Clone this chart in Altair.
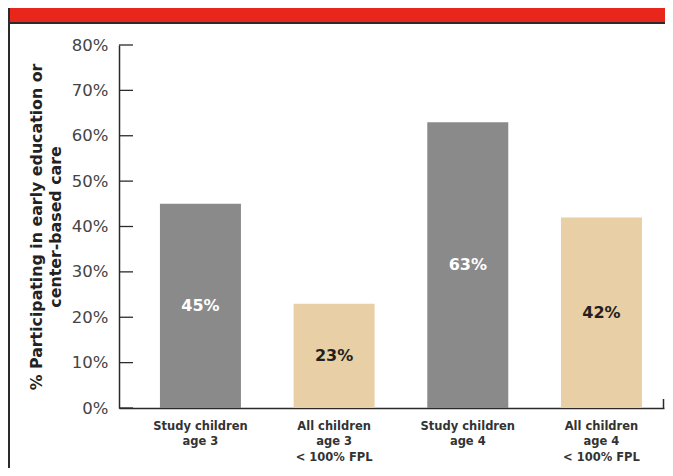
import altair as alt
import pandas as pd

# ---- data ----
categories = [
    "Study children|age 3",
    "All children|age 3|< 100% FPL",
    "Study children|age 4",
    "All children|age 4|< 100% FPL",
]
groups = ["Study", "All", "Study", "All"]
values = [45, 23, 63, 42]
y_ticks = [0, 10, 20, 30, 40, 50, 60, 70, 80]
y_title = ["% Participating in early education or", "center-based care"]

df = pd.DataFrame({"category": categories, "group": groups, "value": values})
tick_df = pd.DataFrame({"tick": y_ticks})
one = pd.DataFrame({"k": [0]})

W, H = 545, 363
PAD_L, PAD_T, PAD_R, PAD_B = 111, 37, 1, 60
FONT = "DejaVu Sans"
DARK = "#2b2b2b"

yscale = alt.Scale(domain=[0, 80], nice=False, zero=True)
xscale = alt.Scale(paddingInner=0.394, paddingOuter=0.2356, align=0.65)

x_axis = alt.Axis(
    title=None,
    labelExpr="split(datum.label, '|')",
    labelAngle=0,
    labelFont=FONT,
    labelFontSize=11.5,
    labelFontWeight="bold",
    labelColor="#333333",
    labelLineHeight=15.5,
    labelBaseline="top",
    labelPadding=12,
    labelLimit=0,
    ticks=False,
    tickSize=0,
    domainColor=DARK,
    domainWidth=1.5,
    grid=False,
)

y_axis = alt.Axis(
    values=y_ticks,
    labelExpr="datum.value + '%'",
    labelFont=FONT,
    labelFontSize=16.5,
    labelColor="#444444",
    labelPadding=11,
    ticks=False,
    tickSize=0,
    grid=False,
    domainColor=DARK,
    domainWidth=1.5,
    title=y_title,
    titleFont=FONT,
    titleFontSize=15.8,
    titleFontWeight="bold",
    titleColor="#222222",
    titleAngle=-90,
    titleAlign="center",
    titleBaseline="middle",
    titleLineHeight=19.5,
    titleX=-83,
    titleY=H / 2,
)

bars = alt.Chart(df).mark_bar().encode(
    x=alt.X("category:N", sort=categories, scale=xscale, axis=x_axis),
    y=alt.Y("value:Q", scale=yscale, axis=y_axis),
    color=alt.Color(
        "group:N",
        scale=alt.Scale(domain=["Study", "All"], range=["#8a8a8a", "#e8cfa5"]),
        legend=None,
    ),
)

labels = alt.Chart(df).transform_calculate(
    half="datum.value / 2", lab="datum.value + '%'"
).mark_text(font=FONT, fontSize=16, fontWeight="bold", baseline="middle").encode(
    x=alt.X("category:N", sort=categories, scale=xscale, axis=x_axis),
    y=alt.Y("half:Q", scale=yscale, axis=y_axis),
    text="lab:N",
    color=alt.condition(alt.datum.group == "Study", alt.value("white"), alt.value("#231f20")),
)

inner_ticks = alt.Chart(tick_df).mark_rule(color=DARK, strokeWidth=1.3).encode(
    y=alt.Y("tick:Q", scale=yscale, axis=y_axis),
    x=alt.value(0),
    x2=alt.value(14),
)

end_tick = alt.Chart(one).mark_rule(color=DARK, strokeWidth=1.5).encode(
    x=alt.value(W - 0.5), y=alt.value(H), y2=alt.value(H - 9)
)

banner = alt.Chart(one).mark_rect(color="#e8261c").encode(
    x=alt.value(-PAD_L + 1), x2=alt.value(W + PAD_R),
    y=alt.value(-PAD_T), y2=alt.value(-PAD_T + 15),
)
banner_line = alt.Chart(one).mark_rule(color=DARK, strokeWidth=2).encode(
    x=alt.value(-PAD_L), x2=alt.value(W + PAD_R), y=alt.value(-PAD_T + 15)
)
left_border = alt.Chart(one).mark_rule(color=DARK, strokeWidth=2).encode(
    x=alt.value(-PAD_L + 1), y=alt.value(-PAD_T), y2=alt.value(H + PAD_B)
)

chart = alt.layer(
    bars, labels, inner_ticks, end_tick, banner, banner_line, left_border
).properties(
    width=W,
    height=H,
    autosize="none",
    padding={"left": PAD_L, "top": PAD_T, "right": PAD_R, "bottom": PAD_B},
    background="white",
).configure_view(stroke=None)

chart.save("out.html", embed_options={"renderer": "svg", "actions": False})
